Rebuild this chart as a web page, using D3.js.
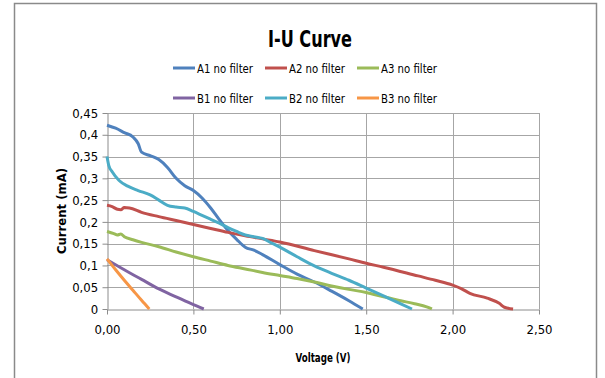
<!DOCTYPE html>
<html>
<head>
<meta charset="utf-8">
<script src="https://cdn.jsdelivr.net/npm/d3@7"></script>
<style>
  html, body { margin: 0; padding: 0; background: #fff; }
  svg { display: block; }
  text { font-family: "DejaVu Sans Condensed", "Liberation Sans Narrow", "Roboto", sans-serif; fill: #000; }
</style>
</head>
<body>
<svg id="chart" width="605" height="378"></svg>
<script>
// ---- Data (Voltage V, Current mA) ----
const seriesNames = ["A1 no filter", "A2 no filter", "A3 no filter", "B1 no filter", "B2 no filter", "B3 no filter"];
const seriesColors = ["#4F81BD", "#C0504D", "#9BBB59", "#8064A2", "#4BACC6", "#F79646"];

const A1 = [[0,0.422],[0.05,0.415],[0.1,0.405],[0.15,0.395],[0.18,0.38],[0.2,0.36],[0.25,0.352],[0.3,0.343],[0.35,0.325],[0.4,0.3],[0.45,0.283],[0.5,0.272],[0.55,0.255],[0.6,0.232],[0.65,0.205],[0.7,0.18],[0.75,0.16],[0.8,0.142],[0.85,0.135],[0.9,0.125],[1.0,0.102],[1.1,0.08],[1.2,0.062],[1.3,0.041],[1.4,0.019],[1.48,0]];
const A2 = [[0,0.238],[0.03,0.235],[0.06,0.229],[0.08,0.228],[0.1,0.233],[0.13,0.232],[0.2,0.222],[0.3,0.212],[0.4,0.203],[0.5,0.194],[0.6,0.185],[0.7,0.176],[0.8,0.168],[0.9,0.161],[1.0,0.154],[1.2,0.134],[1.4,0.115],[1.5,0.105],[1.6,0.096],[1.8,0.076],[1.9,0.066],[2.0,0.055],[2.05,0.047],[2.1,0.036],[2.2,0.025],[2.27,0.013],[2.3,0.004],[2.35,0]];
const A3 = [[0,0.178],[0.04,0.173],[0.06,0.17],[0.08,0.172],[0.1,0.166],[0.15,0.159],[0.2,0.153],[0.3,0.143],[0.4,0.131],[0.5,0.12],[0.6,0.11],[0.7,0.1],[0.8,0.092],[0.9,0.084],[1.0,0.077],[1.1,0.07],[1.2,0.062],[1.3,0.053],[1.4,0.045],[1.5,0.038],[1.6,0.028],[1.7,0.019],[1.78,0.012],[1.85,0.005],[1.88,0]];
const B1 = [[0,0.113],[0.1,0.09],[0.2,0.068],[0.3,0.046],[0.4,0.028],[0.5,0.01],[0.56,0]];
const B2 = [[0,0.35],[0.01,0.33],[0.03,0.315],[0.07,0.295],[0.12,0.282],[0.18,0.272],[0.25,0.262],[0.3,0.25],[0.35,0.238],[0.4,0.234],[0.45,0.232],[0.5,0.224],[0.55,0.215],[0.6,0.206],[0.65,0.197],[0.7,0.187],[0.75,0.178],[0.8,0.17],[0.85,0.166],[0.9,0.162],[0.95,0.152],[1.0,0.142],[1.1,0.12],[1.2,0.099],[1.3,0.082],[1.4,0.066],[1.5,0.048],[1.6,0.03],[1.7,0.012],[1.765,0]];
const B3 = [[0,0.115],[0.05,0.09],[0.1,0.066],[0.15,0.043],[0.2,0.02],[0.245,0]];

const xTicks = [0, 0.5, 1.0, 1.5, 2.0, 2.5];
const xTickLabels = ["0,00", "0,50", "1,00", "1,50", "2,00", "2,50"];
const yTicks = [0, 0.05, 0.1, 0.15, 0.2, 0.25, 0.3, 0.35, 0.4, 0.45];
const yTickLabels = ["0", "0,05", "0,1", "0,15", "0,2", "0,25", "0,3", "0,35", "0,4", "0,45"];

const allSeries = [A1, A2, A3, B1, B2, B3];

// ---- Layout ----
const svg = d3.select("#chart");
const plot = { left: 107, right: 539, top: 113, bottom: 309 };

const x = d3.scaleLinear().domain([0, 2.5]).range([plot.left, plot.right]);
const y = d3.scaleLinear().domain([0, 0.45]).range([plot.bottom, plot.top]);

// Outer frame
svg.append("rect")
  .attr("x", 14.5).attr("y", 3.5)
  .attr("width", 582).attr("height", 400)
  .attr("fill", "#fff").attr("stroke", "#8a8a8a").attr("stroke-width", 1.5);

// Gridlines
const grid = svg.append("g");
grid.selectAll("line.h").data(yTicks.slice(1)).join("line")
  .attr("x1", plot.left).attr("x2", plot.right)
  .attr("y1", d => Math.round(y(d)) + 0.5).attr("y2", d => Math.round(y(d)) + 0.5)
  .attr("stroke", "#a6a6a6").attr("stroke-width", 1);
grid.selectAll("line.v").data(xTicks.slice(1)).join("line")
  .attr("y1", plot.top).attr("y2", plot.bottom)
  .attr("x1", d => Math.round(x(d)) + 0.5).attr("x2", d => Math.round(x(d)) + 0.5)
  .attr("stroke", "#a6a6a6").attr("stroke-width", 1);

// Axes
const xAxis = d3.axisBottom(x).tickValues(xTicks).tickFormat((d, i) => xTickLabels[i]).tickSize(5).tickSizeOuter(0);
const yAxis = d3.axisLeft(y).tickValues(yTicks).tickFormat((d, i) => yTickLabels[i]).tickSize(5).tickSizeOuter(0);

const gx = svg.append("g").attr("transform", `translate(0,${plot.bottom + 0.5})`).call(xAxis);
const gy = svg.append("g").attr("transform", `translate(${plot.left + 0.5},0)`).call(yAxis);
[gx, gy].forEach(g => {
  g.selectAll("path, line").attr("stroke", "#8c8c8c");
  g.selectAll("text").attr("font-size", 13).attr("fill", "#000")
    .style("font-family", '"DejaVu Sans Condensed", sans-serif');
});
gx.selectAll("text").attr("dy", "1.25em");
gy.selectAll("text").attr("dx", "-0.1em");

// Lines
const line = d3.line().x(d => x(d[0])).y(d => y(d[1])).curve(d3.curveMonotoneX);
svg.append("g").selectAll("path").data(allSeries).join("path")
  .attr("d", d => line(d))
  .attr("fill", "none")
  .attr("stroke", (d, i) => seriesColors[i])
  .attr("stroke-width", 3)
  .attr("stroke-linejoin", "round")
  .attr("stroke-linecap", "butt");

// Title
svg.append("text").attr("x", 310).attr("y", 47)
  .attr("text-anchor", "middle").attr("font-size", 23).attr("font-weight", "bold")
  .attr("textLength", 84).attr("lengthAdjust", "spacingAndGlyphs")
  .text("I-U Curve");

// Legend
const legX = [173, 265, 357];
const legY = [68, 98];
const leg = svg.append("g");
seriesNames.forEach((name, i) => {
  const lx = legX[i % 3], ly = legY[Math.floor(i / 3)];
  leg.append("line").attr("x1", lx).attr("x2", lx + 22).attr("y1", ly).attr("y2", ly)
    .attr("stroke", seriesColors[i]).attr("stroke-width", 3);
  leg.append("text").attr("x", lx + 24).attr("y", ly + 4.5)
    .attr("font-size", 13).attr("textLength", 56).attr("lengthAdjust", "spacingAndGlyphs")
    .text(name);
});

// Axis titles
svg.append("text").attr("x", 323).attr("y", 362)
  .attr("text-anchor", "middle").attr("font-size", 13).attr("font-weight", "bold")
  .attr("textLength", 55).attr("lengthAdjust", "spacingAndGlyphs")
  .text("Voltage (V)");
svg.append("text")
  .attr("transform", `translate(66,${(plot.top + plot.bottom) / 2}) rotate(-90)`)
  .attr("text-anchor", "middle").attr("font-size", 13).attr("font-weight", "bold")
  .attr("textLength", 86).attr("lengthAdjust", "spacingAndGlyphs")
  .text("Current (mA)");
</script>
</body>
</html>
